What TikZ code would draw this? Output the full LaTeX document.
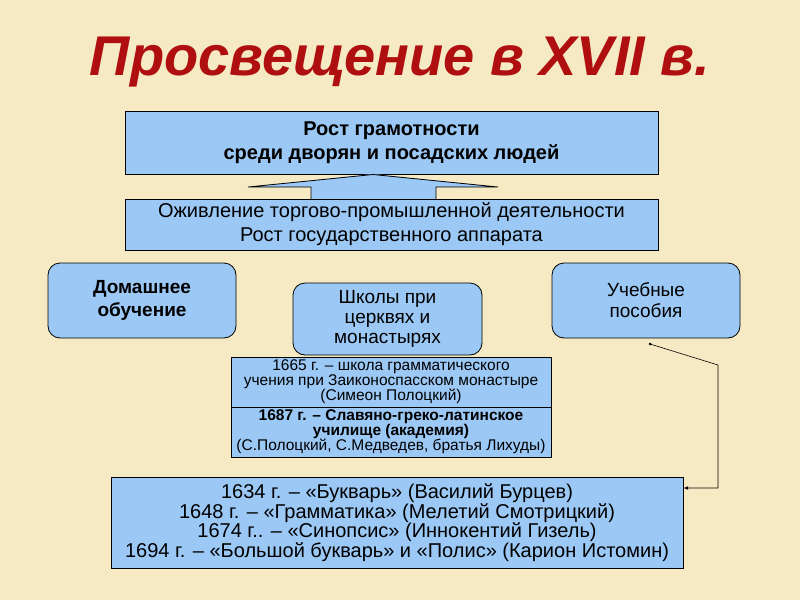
\documentclass[tikz,border=0pt]{standalone}
\usepackage{fontspec}
\setmainfont{Liberation Sans}
\begin{document}
\begin{tikzpicture}[x=1pt,y=-1pt,
 bx/.style={draw=black,fill=boxc,line width=0.8pt,align=center,inner sep=0pt},
 rb/.style={bx,rounded corners=12pt}]
\definecolor{boxc}{RGB}{155,200,245}
\definecolor{bg}{RGB}{246,234,196}
\definecolor{ttl}{RGB}{175,15,15}
\fill[bg] (0,0) rectangle (800,600);
\useasboundingbox (0,0) rectangle (800,600);
\node[font=\bfseries\itshape\fontsize{56}{60}\selectfont,text=ttl] (title) at (400,62) {Просвещение в XVII в.};
\node[bx,minimum width=533pt,minimum height=63pt,font=\bfseries\fontsize{20}{24}\selectfont] (top) at (391.5,142.5) {Рост грамотности\\среди дворян и посадских людей};
\fill[boxc] (248,187)--(373,174)--(498,187)--(436,187)--(436,199.5)--(311,199.5)--(311,187)--cycle;
\draw[line width=0.8pt] (311,199)--(311,187)--(248,187)--(373,174.5)--(498,187)--(436,187)--(436,199);
\node[bx,minimum width=533pt,minimum height=51pt,font=\fontsize{20}{24}\selectfont] (rise) at (391.5,224.5) {Оживление торгово-промышленной деятельности\\Рост государственного аппарата};
\node[rb,minimum width=188pt,minimum height=75pt,font=\bfseries\fontsize{19}{23}\selectfont] (home) at (142,300.5) {Домашнее\\обучение};
\node[rb,minimum width=189pt,minimum height=72pt,font=\fontsize{19}{20}\selectfont] (school) at (387.5,319) {Школы при\\церквях и\\монастырях};
\node[rb,minimum width=188pt,minimum height=75pt,font=\fontsize{19}{21}\selectfont] (books) at (646,300.5) {Учебные\\пособия};
\node[bx,minimum width=320pt,minimum height=50pt,font=\fontsize{15.5}{15}\selectfont] (s1665) at (391,382) {1665 г. – школа грамматического\\учения при Заиконоспасском монастыре\\(Симеон Полоцкий)};
\node[bx,minimum width=320pt,minimum height=50pt,font=\fontsize{15.5}{15}\selectfont] (s1687) at (391,432) {\textbf{1687 г. – Славяно-греко-латинское}\\\textbf{училище (академия)}\\(С.Полоцкий, С.Медведев, братья Лихуды)};
\node[bx,minimum width=572pt,minimum height=91pt,font=\fontsize{20}{19.5}\selectfont] (list) at (397,522.5) {1634 г. – «Букварь» (Василий Бурцев)\\1648 г. – «Грамматика» (Мелетий Смотрицкий)\\1674 г.. – «Синопсис» (Иннокентий Гизель)\\1694 г. – «Большой букварь» и «Полис» (Карион Истомин)};
\coordinate (c1) at (718,365);
\coordinate (c2) at (718,488);
\fill (650,344) circle (1.5pt);
\draw[-latex,line width=0.6pt] (650,344)--(c1)--(c2)--(list.east|-c2);
\end{tikzpicture}
\end{document}
